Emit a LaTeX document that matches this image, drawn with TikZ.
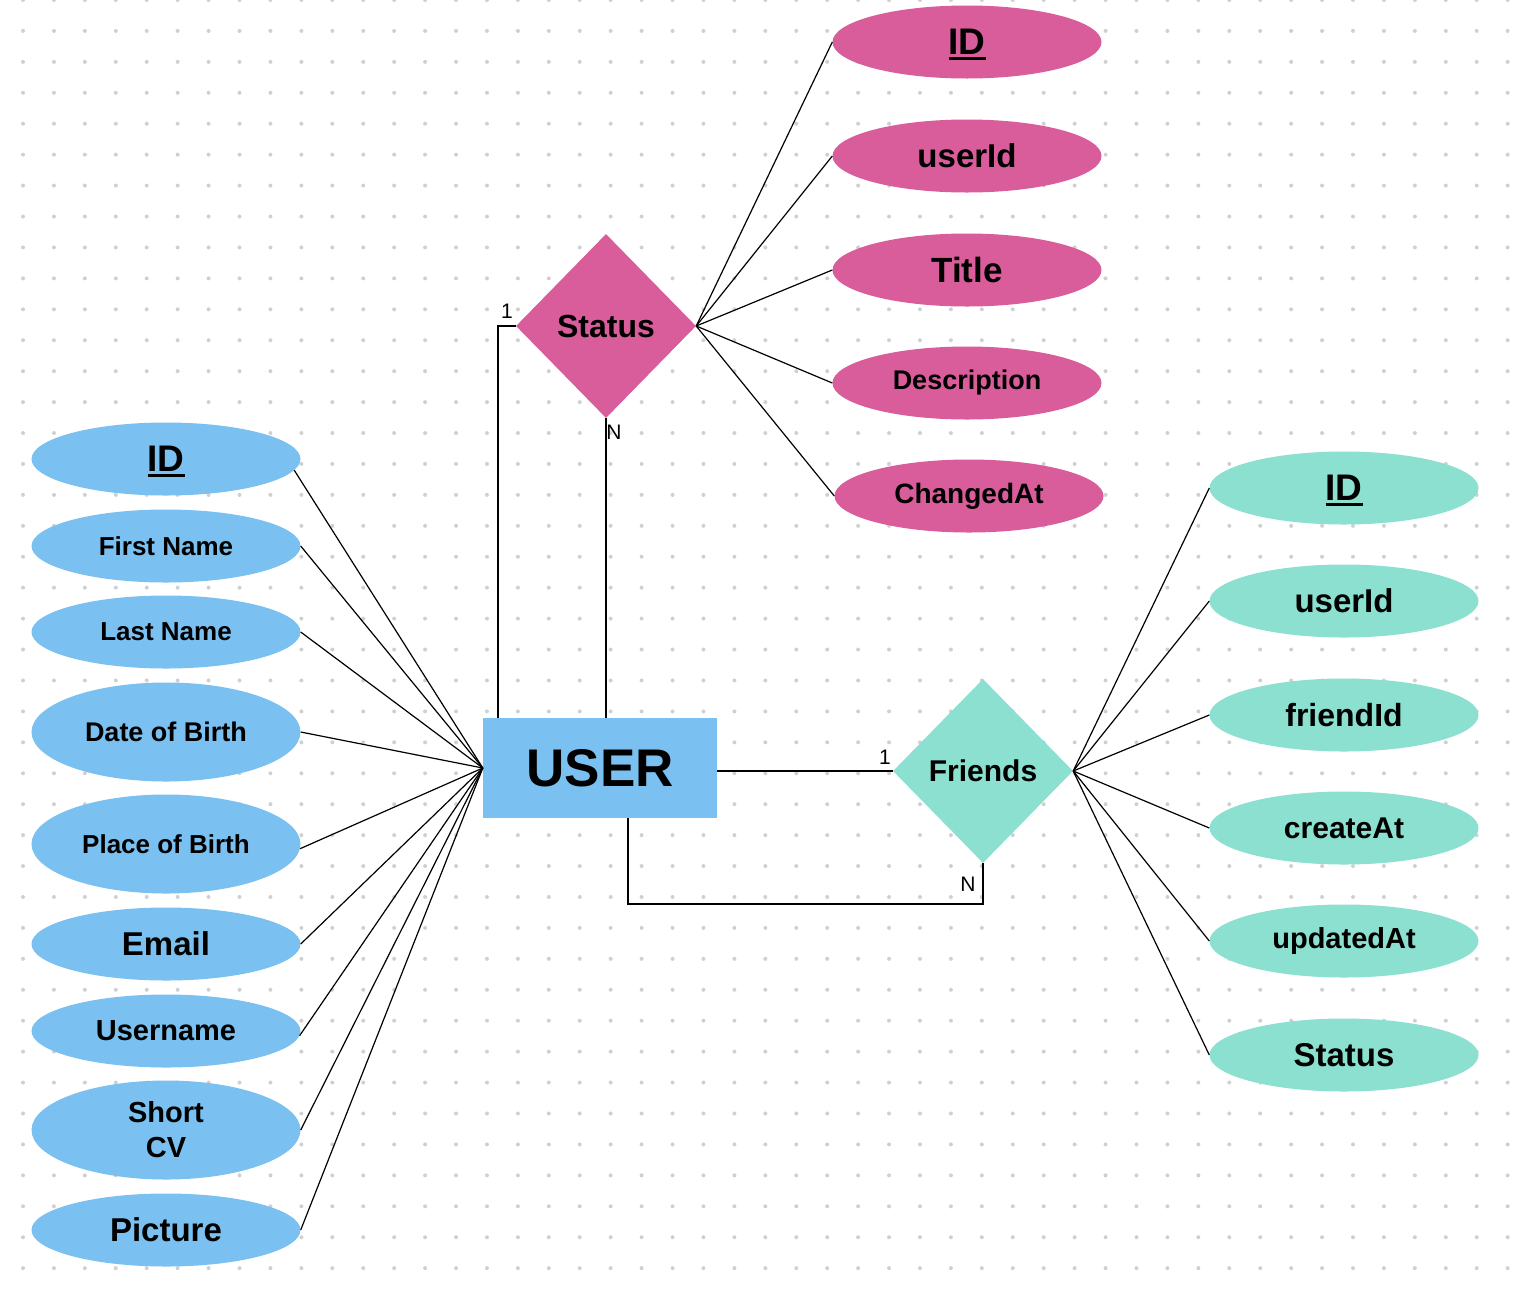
\documentclass[tikz,border=0pt]{standalone}
\usepackage{fontspec}
\setmainfont{Liberation Sans}
\usepackage{tikz}
\usetikzlibrary{shapes.geometric}

\definecolor{userblue}{RGB}{122,192,240}
\definecolor{statuspink}{RGB}{217,92,155}
\definecolor{friendteal}{RGB}{139,224,208}
\definecolor{dotgrey}{RGB}{208,208,208}

\newcommand{\attrsize}[1]{\fontsize{#1}{35}\selectfont}
\newcommand{\keyline}[1]{\setbox0\hbox{#1}\rlap{\raisebox{0pt}[0pt][0pt]{\rule[-5pt]{\wd0}{3pt}}}\box0}

\begin{document}
\begin{tikzpicture}[x=1pt,y=-1pt,
  attr/.style={ellipse,fill=#1,inner sep=0pt,minimum width=269pt,minimum height=73pt,align=center},
  rel/.style={diamond,fill=#1,inner sep=0pt,minimum width=180pt,minimum height=184pt},
  entity/.style={rectangle,fill=userblue,inner sep=0pt,minimum width=234pt,minimum height=100pt},
  link/.style={line width=1.2pt},
  card/.style={inner sep=0pt,font=\attrsize{21}}]
  \useasboundingbox (0,0) rectangle (1514,1288);

  % Dot grid
  \foreach \i in {0,...,48}
    \foreach \j in {0,...,41}
      \fill[dotgrey] (23+30.93*\i,30.93*\j) circle (2pt);

  % Entity and relationships
  \node[entity,font=\bfseries\attrsize{53}] (user) at (600,768) {USER};
  \node[rel=statuspink,font=\bfseries\attrsize{32}] (st) at (606,326) {Status};
  \node[rel=friendteal,font=\bfseries\attrsize{30}] (fr) at (983,771) {Friends};

  % User attributes
  \node[attr=userblue,font=\bfseries\attrsize{37}] (uid) at (166,459) {\keyline{ID}};
  \node[attr=userblue,font=\bfseries\attrsize{26}] (ufirst) at (166,546) {First Name};
  \node[attr=userblue,font=\bfseries\attrsize{26}] (ulast) at (166,632) {Last Name};
  \node[attr=userblue,minimum height=99pt,font=\bfseries\attrsize{27}] (udob) at (166,732) {Date of Birth};
  \node[attr=userblue,minimum height=99pt,font=\bfseries\attrsize{26}] (upob) at (166,844) {Place of Birth};
  \node[attr=userblue,font=\bfseries\attrsize{33}] (umail) at (166,944) {Email};
  \node[attr=userblue,font=\bfseries\attrsize{29}] (uname) at (166,1031) {Username};
  \node[attr=userblue,minimum height=99pt,font=\bfseries\attrsize{29}] (ucv) at (166,1130) {Short\\CV};
  \node[attr=userblue,font=\bfseries\attrsize{33}] (upic) at (166,1230) {Picture};

  % Status attributes
  \node[attr=statuspink,font=\bfseries\attrsize{37}] (sid) at (967,42) {\keyline{ID}};
  \node[attr=statuspink,font=\bfseries\attrsize{33}] (suser) at (967,156) {userId};
  \node[attr=statuspink,font=\bfseries\attrsize{35}] (stitle) at (967,270) {Title};
  \node[attr=statuspink,font=\bfseries\attrsize{27}] (sdesc) at (967,383) {Description};
  \node[attr=statuspink,font=\bfseries\attrsize{28}] (schanged) at (969,496) {ChangedAt};

  % Friends attributes
  \node[attr=friendteal,font=\bfseries\attrsize{37}] (fid) at (1344,488) {\keyline{ID}};
  \node[attr=friendteal,font=\bfseries\attrsize{33}] (fuser) at (1344,601) {userId};
  \node[attr=friendteal,font=\bfseries\attrsize{32}] (ffriend) at (1344,715) {friendId};
  \node[attr=friendteal,font=\bfseries\attrsize{30}] (fcreate) at (1344,828) {createAt};
  \node[attr=friendteal,font=\bfseries\attrsize{29}] (fupdate) at (1344,941) {updatedAt};
  \node[attr=friendteal,font=\bfseries\attrsize{33}] (fstatus) at (1344,1055) {Status};

  % Attribute links
  \foreach \a/\ang in {uid/-5,ufirst/0,ulast/0,udob/0,upob/-2,umail/0,uname/-2,ucv/0,upic/0}
    \draw[link] (\a.\ang) -- (user.west);
  \foreach \a in {sid,suser,stitle,sdesc,schanged}
    \draw[link] (st.east) -- (\a.west);
  \foreach \a in {fid,fuser,ffriend,fcreate,fupdate,fstatus}
    \draw[link] (fr.east) -- (\a.west);

  % Relationship links
  \coordinate (fbend) at (983,904);
  \draw[link] (st.west) -| ([xshift=-102pt]user.north);
  \draw[link] (st.south) -- (st.south |- user.north);
  \draw[link] (user.east |- fr.west) -- (fr.west);
  \draw[link] ([xshift=28pt]user.south) |- (fbend) -- (fr.south);

  % Cardinalities
  \node[card] (stone) at (507,311) {1};
  \node[card] (stmany) at (614,432) {N};
  \node[card] (frone) at (885,757) {1};
  \node[card] (frmany) at (968,884) {N};
\end{tikzpicture}
\end{document}
